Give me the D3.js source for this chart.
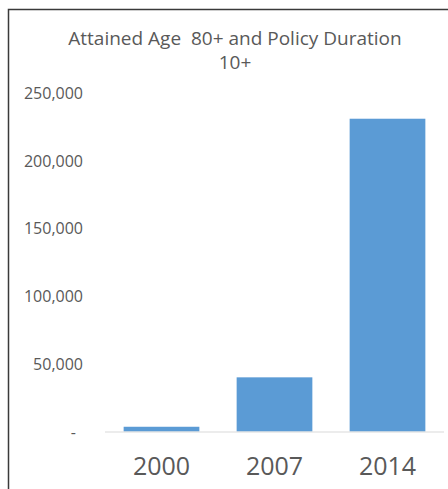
<!DOCTYPE html>
<html>
<head>
<meta charset="utf-8">
<script src="https://cdn.jsdelivr.net/npm/d3@7"></script>
<style>
  html, body { margin: 0; padding: 0; background: #fff; }
  svg { display: block; }
  text { font-family: "Open Sans", "Noto Sans", sans-serif; fill: #595959; }
</style>
</head>
<body>
<svg id="chart" width="448" height="489"></svg>
<script>
const categories = ["2000", "2007", "2014"];
const values = [3500, 40000, 231000];
const yTicks = [0, 50000, 100000, 150000, 200000, 250000];
const titleLines = ["Attained Age  80+ and Policy Duration", "10+"];

const svg = d3.select("#chart");
const W = 448, H = 489;

// frame
svg.append("path")
  .attr("d", `M8.5,${H} L8.5,9.5 L${W},9.5`)
  .attr("fill", "none")
  .attr("stroke", "#3a3a3a")
  .attr("stroke-width", 1.5);

const x = d3.scaleBand()
  .domain(categories)
  .range([105, 444])
  .paddingInner(0.33)
  .paddingOuter(0.165);

const y = d3.scaleLinear()
  .domain([0, 250000])
  .range([431.5, 93]);

// title
svg.append("g").selectAll("text")
  .data(titleLines)
  .join("text")
  .attr("x", 235)
  .attr("y", (d, i) => 38 + i * 24)
  .attr("text-anchor", "middle")
  .attr("dominant-baseline", "central")
  .style("font-size", "19px")
  .style("white-space", "pre")
  .text(d => d);

// y axis labels
const fmt = d3.format(",");
svg.append("g").selectAll("text")
  .data(yTicks)
  .join("text")
  .attr("x", d => d === 0 ? 76 : 83)
  .attr("y", d => y(d))
  .attr("text-anchor", "end")
  .attr("dominant-baseline", "central")
  .style("font-size", "16px")
  .text(d => d === 0 ? "-" : fmt(d));

// bars
svg.append("g").selectAll("rect")
  .data(values)
  .join("rect")
  .attr("x", (d, i) => x(categories[i]))
  .attr("width", x.bandwidth())
  .attr("y", d => y(d))
  .attr("height", d => y(0) - y(d))
  .attr("fill", "#5B9BD5");

// baseline
svg.append("line")
  .attr("x1", x.range()[0])
  .attr("x2", x.range()[1])
  .attr("y1", y(0) + 0.5)
  .attr("y2", y(0) + 0.5)
  .attr("stroke", "#D9D9D9")
  .attr("stroke-width", 1);

// x labels
svg.append("g").selectAll("text")
  .data(categories)
  .join("text")
  .attr("x", d => x(d) + x.bandwidth() / 2)
  .attr("y", 465)
  .attr("text-anchor", "middle")
  .attr("dominant-baseline", "central")
  .style("font-size", "25px")
  .text(d => d);
</script>
</body>
</html>
